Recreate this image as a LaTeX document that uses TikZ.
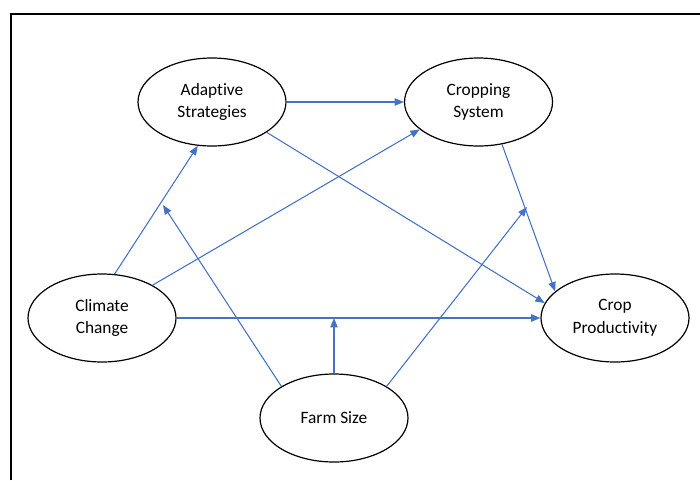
\documentclass[tikz,border=0pt]{standalone}
\usepackage{fontspec}
\setmainfont{Carlito}[Ligatures=NoCommon]
\usepackage{tikz}
\usetikzlibrary{shapes.geometric, arrows.meta, positioning}
\definecolor{linkblue}{RGB}{68,114,196}

\begin{document}
\begin{tikzpicture}[x=0.75pt, y=-0.75pt,
    factor/.style={draw=black, line width=0.9pt, ellipse, inner sep=0pt, minimum width=111pt, minimum height=66pt, align=center, font=\fontsize{13}{17}\selectfont},
    arrow/.style={-{Triangle[length=7pt, width=5.5pt]}, draw=linkblue, line width=0.8pt}
]
\useasboundingbox (0,0) rectangle (700,480);

% Frame
\draw[line width=1.5pt] (11,480) -- (11,14) -- (700,14);

% Factors
\node[factor] (adapt) at (212,102) {Adaptive\\Strategies};
\node[factor, right=88pt of adapt] (crop) {Cropping\\System};
\node[factor] (climate) at (102,318) {Climate\\Change};
\node[factor] (prod) at (615,318) {Crop\\Productivity};
\node[factor] (farm) at (334,418) {Farm Size};

% Moderation points
\coordinate (m1) at (163,205);
\coordinate (m2) at (farm.north |- climate.east);
\coordinate (m3) at (527,207);

% Arrows
\draw[arrow] (adapt.east) -- (crop.west);
\draw[arrow] (adapt.-29) -- (prod.168);
\draw[arrow] (crop.-61) -- (prod.156);
\draw[arrow] (climate.74) -- (adapt.252);
\draw[arrow] (climate.33) -- (crop.205);
\draw[arrow, line width=1.2pt] (climate.east) -- (prod.west);
\draw[arrow] (farm.149) -- (m1);
\draw[arrow] (farm.north) -- (m2);
\draw[arrow] (farm.31) -- (m3);

\end{tikzpicture}
\end{document}
